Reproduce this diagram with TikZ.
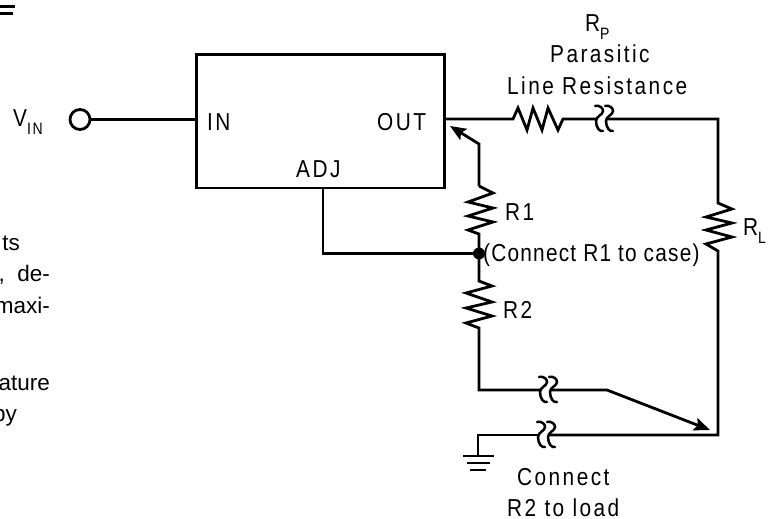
\documentclass[tikz,border=0pt]{standalone}
\usepackage{fontspec}
\usetikzlibrary{arrows.meta}
\setmainfont{Liberation Sans}
\newfontfamily\spaced[LetterSpace=10,FakeStretch=0.85]{Liberation Sans}
\newfontfamily\tightspaced[LetterSpace=5,FakeStretch=0.85]{Liberation Sans}
\newcommand{\subtxt}[1]{\raisebox{-8pt}{\fontsize{16.5}{16.5}\selectfont #1}}
\tikzset{
  wire/.style={line width=2.8pt,line join=miter,black},
  sensearrow/.style={wire,-{Stealth[length=16pt,width=13pt,inset=3pt]}},
  lbl/.style={font=\spaced\fontsize{24.5}{28}\selectfont,inner sep=0pt,anchor=base west},
  tightlbl/.style={font=\tightspaced\fontsize{24.5}{28}\selectfont,inner sep=0pt,anchor=base west},
  page/.style={font=\fontsize{22.5}{26}\selectfont,inner sep=0pt,anchor=base east},
  pics/squig/.style={code={
    \draw[wire,line width=2.5pt,line cap=round] (-8,-13) .. controls (-3,-14) and (0,-11) .. (0,-8) .. controls (0,-4) and (-7,-3) .. (-7,2) .. controls (-7,9) and (-3,13) .. (0,12);
    \draw[wire,line width=2.5pt,line cap=round] (2,-13) .. controls (7,-14) and (10,-11) .. (10,-8) .. controls (10,-4) and (3,-3) .. (3,2) .. controls (3,9) and (7,13) .. (10,12);
  }}
}
\begin{document}
\begin{tikzpicture}[x=1pt,y=-1pt]
\useasboundingbox (0,0) rectangle (779,519);
% regulator
\node[draw,wire,minimum width=248pt,minimum height=133.5pt,inner sep=0pt,anchor=north west] (reg) at (195,53) {};
\node[draw,wire,circle,minimum size=20pt,inner sep=0pt] (vin) at (80,119.5) {};
\coordinate (regin) at (195,119.5);
\coordinate (regout) at (443,119);
\coordinate (adjtop) at (323,186.5);
\coordinate (adjcorner) at (323,253.5);
\node[fill=black,circle,minimum size=12pt,inner sep=0pt] (junction) at (479,253.5) {};
\draw[wire] (vin.east) -- (regin);
\draw[wire] (adjtop) -- (adjcorner) -- (junction.center);
% series path
\coordinate (rpin) at (513,119);
\coordinate (rpout) at (563,119);
\coordinate (corner) at (718,119);
\coordinate (rlin) at (718,203);
\coordinate (rlout) at (718,251);
\coordinate (botcorner) at (718,435);
\draw[wire] (regout) -- (rpin) -- (518,108) -- (527,130) -- (533,108) -- (542,130) -- (548,108) -- (558,130) -- (rpout) -- (597,119);
\pic at (603,119) {squig};
\draw[wire] (607,119) -- (corner) -- (rlin) -- (732,209) -- (706,217) -- (732,223) -- (706,230) -- (732,237) -- (706,244) -- (rlout) -- (botcorner) -- (549,435);
\pic at (545,435) {squig};
\coordinate (gndtop) at (478,435);
\coordinate (gnd) at (478,456);
\draw[wire] (539,435) -- (gndtop) -- (gnd);
\draw[wire] (463,456) -- (494,456);
\draw[wire] (467,463) -- (490,463);
\draw[wire] (470,470) -- (486,470);
% sense
\coordinate (sensetip) at (450,126);
\coordinate (sensebend) at (479,144);
\coordinate (r1in) at (479,186);
\coordinate (r1out) at (479,234);
\coordinate (r2in) at (479,281);
\coordinate (r2out) at (479,328);
\coordinate (lowcorner) at (479,390);
\coordinate (lowbend) at (607,390);
\coordinate (loadtip) at (710,430);
\draw[sensearrow] (r1in) -- (sensebend) -- (sensetip);
\draw[wire] (r1in) -- (493,193) -- (468,202) -- (493,208) -- (468,216) -- (493,222) -- (468,230) -- (r1out) -- (r2in) -- (492,286) -- (466,293) -- (492,302) -- (466,308) -- (492,316) -- (466,323) -- (r2out) -- (lowcorner) -- (541,390);
\pic at (547,390) {squig};
\draw[sensearrow] (551,390) -- (lowbend) -- (loadtip);
% labels
\node[lbl] (vinl) at (13,126) {V\subtxt{IN}};
\node[lbl] (inl) at (207,130) {IN};
\node[lbl] (outl) at (377,130) {OUT};
\node[lbl] (adjl) at (296,177) {ADJ};
\node[lbl] (rpl) at (585,32) {R\subtxt{P}};
\node[lbl] (parl) at (550,63) {Parasitic};
\node[lbl] (linel) at (507,95) {Line Resistance};
\node[lbl] (r1l) at (505,220) {R1};
\node[tightlbl] (casel) at (483,261) {(Connect R1 to case)};
\node[lbl] (r2l) at (503,318) {R2};
\node[lbl] (rll) at (743,235) {R\subtxt{L}};
\node[lbl] (conl) at (517,485) {Connect};
\node[lbl] (loadl) at (507,516) {R2 to load};
% cropped body text at the left edge
\node[page] (p1) at (20,250) {ts};
\node[page] (p2) at (50,281) {,\hspace{0.55em}de-};
\node[page] (p3) at (50,313) {maxi-};
\node[page] (p4) at (50,390) {ature};
\node[page] (p5) at (17,421) {by};
\fill (0,5) rectangle (15,8);
\fill (0,12) rectangle (13,15);
\end{tikzpicture}
\end{document}
